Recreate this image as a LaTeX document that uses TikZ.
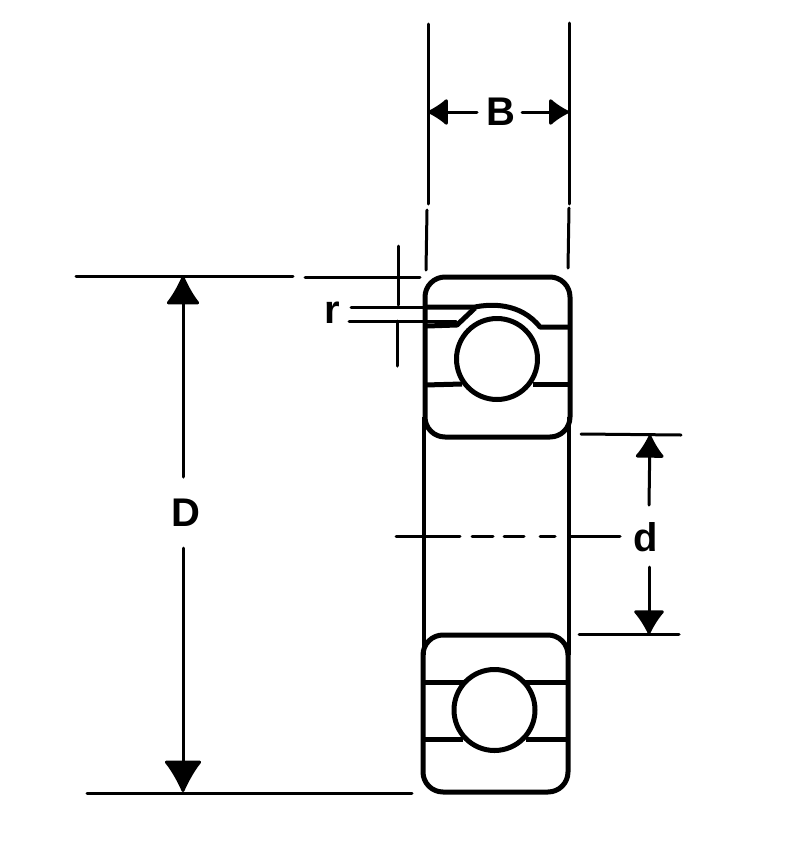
\documentclass[tikz,border=0pt]{standalone}
\usepackage{fontspec}
\setmainfont{Liberation Sans}
\usetikzlibrary{arrows.meta}
\tikzset{
	dimline/.style={line width=3pt, line cap=round},
	bearing/.style={line width=5pt, line join=round},
	dimarrow/.style n args={2}{dimline, -{Latex[round, length=#1, width=#2]}},
	dimlabel/.style={inner sep=0pt, font=\bfseries\fontsize{40}{40}\selectfont}
}
\begin{document}
\begin{tikzpicture}[x=1pt, y=-1pt]
	\useasboundingbox (0, 0) rectangle (800, 849);
	%%%%% UPPER RING %%%%%
	\draw[bearing, rounded corners=20pt] (425, 277) rectangle (570, 437);
	\draw[bearing] (425, 307) -- (475, 307) .. controls (490, 304) and (520, 302) .. (540, 327) -- (570, 327);
	\draw[bearing] (427, 326) -- (457, 325) -- (475, 308);
	\draw[bearing] (425, 385) -- (462, 384);
	\draw[bearing] (533, 384) -- (570, 384);
	\draw[bearing] (497, 359) circle (40.5);
	%%%%% LOWER RING %%%%%
	\draw[bearing, rounded corners=20pt] (423, 635) rectangle (568, 792);
	\draw[bearing] (423, 682) -- (465, 682);
	\draw[bearing] (523, 682) -- (568, 682);
	\draw[bearing] (423, 739) -- (463, 739);
	\draw[bearing] (526, 739) -- (568, 739);
	\draw[bearing] (494.5, 710) circle (40.5);
	%%%%% BORE %%%%%
	\draw[line width=3.5pt] (424, 417) -- (424, 655);
	\draw[line width=3.5pt] (569, 417) -- (569, 655);
	\draw[dimline] (396, 536) -- (460, 536);
	\draw[dimline] (472, 536) -- (493, 536);
	\draw[dimline] (504, 536) -- (524, 536);
	\draw[dimline] (540, 536) -- (555, 536);
	\draw[dimline] (569, 536) -- (620, 536);
	%%%%% WIDTH %%%%%
	\draw[dimline] (428, 24) -- (428, 204);
	\draw[dimline] (427, 210) -- (426, 270);
	\draw[dimline] (569, 23) -- (569, 204);
	\draw[dimline] (569, 208) -- (568, 268);
	\node[dimlabel] (B) at (501, 112) {B};
	\coordinate (Bleft) at (428, 112);
	\coordinate (Bright) at (569, 112);
	\draw[dimarrow={22pt}{30pt}] (477, 112) -- (Bleft);
	\draw[dimarrow={22pt}{30pt}] (522, 112) -- (Bright);
	%%%%% OUTER DIAMETER %%%%%
	\draw[dimline] (76, 276) -- (293, 276);
	\draw[dimline] (305, 277) -- (420, 277);
	\draw[dimline] (87, 793) -- (412, 793);
	\node[dimlabel] (D) at (186, 513) {D};
	\coordinate (Dtop) at (183, 276);
	\coordinate (Dbottom) at (183, 792);
	\draw[dimarrow={31pt}{36pt}] (183, 477) -- (Dtop);
	\draw[dimarrow={34pt}{40pt}] (183, 548) -- (Dbottom);
	%%%%% BORE DIAMETER %%%%%
	\draw[dimline] (581, 434) -- (681, 435);
	\draw[dimline] (579, 634) -- (679, 634);
	\node[dimlabel] (d) at (646, 537) {d};
	\coordinate (dtop) at (650, 435);
	\coordinate (dbottom) at (649, 634);
	\draw[dimarrow={25pt}{32pt}] (649, 505) -- (dtop);
	\draw[dimarrow={26pt}{34pt}] (649, 567) -- (dbottom);
	%%%%% RADIUS %%%%%
	\draw[dimline] (398, 246) -- (398, 305);
	\draw[dimline] (397, 321) -- (397, 366);
	\draw[dimline] (351, 307) -- (425, 307);
	\draw[dimline] (349, 321) -- (456, 321);
	\node[dimlabel] (r) at (332, 313) {r};
\end{tikzpicture}
\end{document}
